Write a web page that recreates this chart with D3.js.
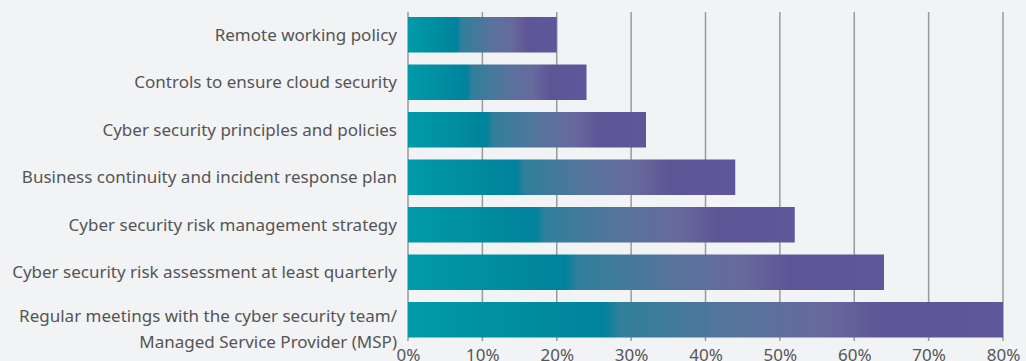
<!DOCTYPE html>
<html>
<head>
<meta charset="utf-8">
<script src="https://cdn.jsdelivr.net/npm/d3@7"></script>
<style>
  html, body { margin: 0; padding: 0; background: #f2f3f5; }
  svg { display: block; }
</style>
</head>
<body>
<svg id="chart"></svg>
<script>
// Daten
const categories = [
  "Remote working policy",
  "Controls to ensure cloud security",
  "Cyber security principles and policies",
  "Business continuity and incident response plan",
  "Cyber security risk management strategy",
  "Cyber security risk assessment at least quarterly",
  "Regular meetings with the cyber security team/\nManaged Service Provider (MSP)"
];
const values = [20, 24, 32, 44, 52, 64, 80];
const tickValues = [0, 10, 20, 30, 40, 50, 60, 70, 80];

const width = 1026, height = 361;
const margin = { top: 12, right: 23, bottom: 20, left: 408 };
const innerWidth  = width  - margin.left - margin.right;
const innerHeight = height - margin.top  - margin.bottom;
const font = "'Source Sans Pro', 'Noto Sans', sans-serif";

const svg = d3.select("#chart")
  .attr("width", width)
  .attr("height", height)
  .style("font-family", font);

// Verlauf pro Balken (Türkis -> Violett)
const grad = svg.append("defs").append("linearGradient")
  .attr("id", "barGrad")
  .attr("x1", "0").attr("x2", "1").attr("y1", "0").attr("y2", "0");
[
  [0.00, "#009ba9"],
  [0.33, "#00829c"],
  [0.355, "#2f7f9b"],
  [0.55, "#56749c"],
  [0.70, "#67699c"],
  [0.80, "#5e5597"],
  [1.00, "#5f579a"]
].forEach(([o, c]) => grad.append("stop").attr("offset", o).attr("stop-color", c));

const g = svg.append("g")
  .attr("transform", `translate(${margin.left},${margin.top})`);

const x = d3.scaleLinear()
  .domain([0, 80])
  .range([0, innerWidth]);

const y = d3.scaleBand()
  .domain(categories)
  .range([5, 325.5])
  .paddingInner(0.2526)
  .paddingOuter(0);

// Gitterlinien
g.append("g")
  .selectAll("line")
  .data(tickValues)
  .join("line")
  .attr("x1", d => x(d)).attr("x2", d => x(d))
  .attr("y1", 0).attr("y2", innerHeight)
  .attr("stroke", "#9a9a9a")
  .attr("stroke-width", 1.5);

// Balken
g.selectAll("rect.bar")
  .data(values)
  .join("rect")
  .attr("class", "bar")
  .attr("x", x(0))
  .attr("y", (d, i) => y(categories[i]))
  .attr("width", d => x(d))
  .attr("height", y.bandwidth())
  .attr("fill", "url(#barGrad)");

// X-Achse (Beschriftung unten, leicht angeschnitten wie im Original)
g.append("g")
  .attr("transform", `translate(0,${innerHeight})`)
  .call(d3.axisBottom(x).tickValues(tickValues).tickFormat(d => d + "%").tickSize(0))
  .call(a => a.select(".domain").remove())
  .call(a => a.selectAll("text")
    .attr("dy", null)
    .attr("y", 20)
    .attr("font-size", "17px")
    .attr("font-family", font)
    .attr("fill", "#555"));

// Kategorien
const labels = g.append("g")
  .selectAll("text")
  .data(categories)
  .join("text")
  .attr("x", -11)
  .attr("y", d => y(d) + y.bandwidth() / 2)
  .attr("text-anchor", "end")
  .attr("font-size", "17px")
  .attr("fill", "#555");

labels.each(function(d) {
  const lines = d.split("\n");
  const t = d3.select(this);
  lines.forEach((l, i) => {
    t.append("tspan")
      .attr("x", -11)
      .attr("dy", i === 0 ? (lines.length > 1 ? "0.12em" : "0.35em") : "1.56em")
      .text(l);
  });
});
</script>
</body>
</html>
